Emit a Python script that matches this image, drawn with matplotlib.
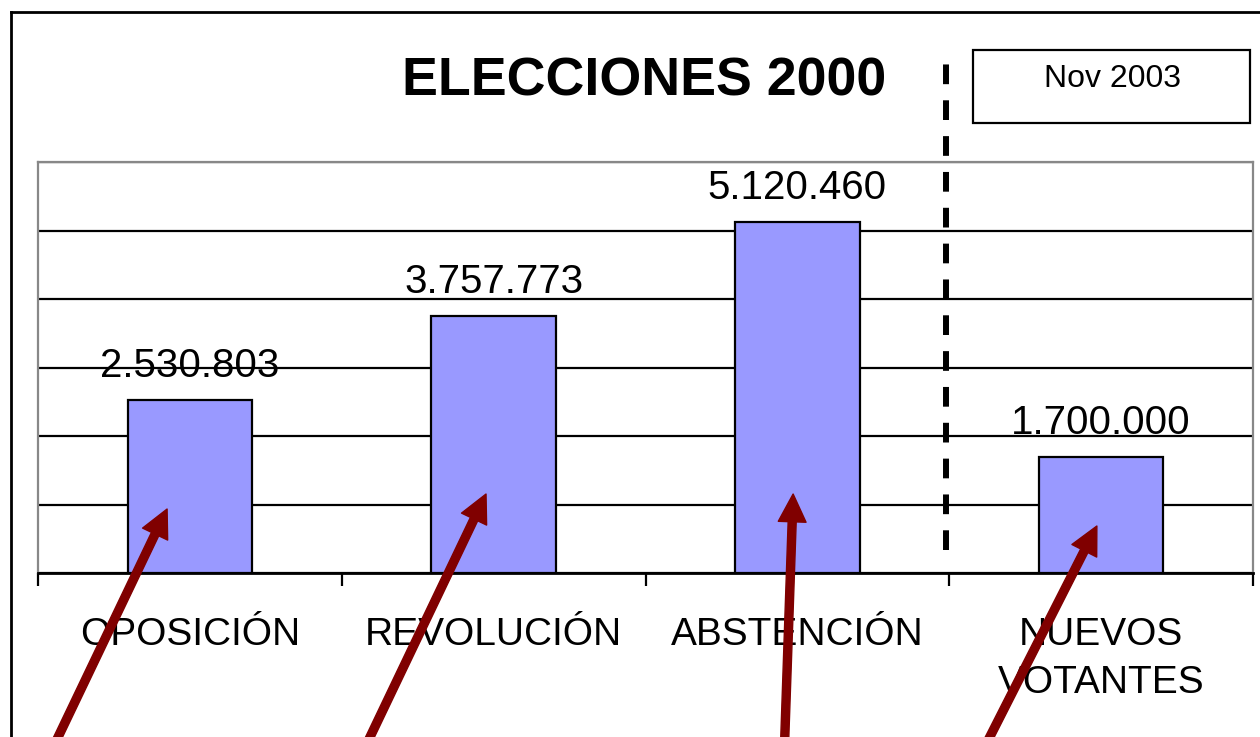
import matplotlib
matplotlib.use("Agg")
import matplotlib.pyplot as plt
from matplotlib.lines import Line2D
from matplotlib.patches import Rectangle

plt.rcParams['font.family'] = ['Liberation Sans', 'DejaVu Sans']

# datos
categorias = ['OPOSICIÓN', 'REVOLUCIÓN', 'ABSTENCIÓN', 'NUEVOS\nVOTANTES']
votos = [2530803, 3757773, 5120460, 1700000]
etiquetas = ['2.530.803', '3.757.773', '5.120.460', '1.700.000']
titulo = 'ELECCIONES 2000'
nota = 'Nov 2003'

# flechas: (x punta, y punta, x cola, y cola) en unidades de datos (millones)
flechas = [(-0.075, 0.934, -0.470, -2.73),
           (0.975, 1.153, 0.557, -2.73),
           (1.986, 1.153, 1.956, -2.73),
           (2.986, 0.686, 2.595, -2.73)]

W, H = 1260, 737
fig = plt.figure(figsize=(W / 100, H / 100), dpi=100)

def fx(px):
    return px / W

def fy(py):
    return 1 - py / H

ax = fig.add_axes([fx(38), fy(573), fx(1253) - fx(38), fy(162) - fy(573)])

x = range(len(categorias))
ax.bar(x, votos, width=0.41, color='#9999FF', edgecolor='black', linewidth=1.6, zorder=3)

ax.set_xlim(-0.5, len(categorias) - 0.5)
ax.set_ylim(0, 6000000)
ax.set_yticks(range(0, 6000001, 1000000))
ax.yaxis.grid(True, color='black', linewidth=1.6, zorder=0)
ax.tick_params(axis='y', left=False, labelleft=False)

ax.set_xticks(list(x))
ax.set_xticklabels(categorias, fontsize=28, linespacing=1.42)
ax.tick_params(axis='x', which='major', length=0, pad=32)
ax.set_xticks([i - 0.5 for i in range(len(categorias) + 1)], minor=True)
ax.tick_params(axis='x', which='minor', length=9, width=1.6, color='black', direction='out')

for s in ['left', 'top', 'right']:
    ax.spines[s].set_color('#888888')
    ax.spines[s].set_linewidth(1.6)
ax.spines['bottom'].set_color('black')
ax.spines['bottom'].set_linewidth(2)
ax.spines['bottom'].set_zorder(4)

for i, (v, t) in enumerate(zip(votos, etiquetas)):
    ax.annotate(t, (i, v), xytext=(0, 16.5), textcoords='offset points',
                ha='center', va='baseline', fontsize=29, zorder=5)

for (x1, y1, x0, y0) in flechas:
    ax.annotate('', xy=(x1, y1 * 1e6), xytext=(x0, y0 * 1e6),
                arrowprops=dict(arrowstyle='simple,head_width=1.0,head_length=1.0,tail_width=0.29',
                                mutation_scale=20, color='#800000', shrinkA=0, shrinkB=0),
                annotation_clip=False, zorder=6)

# linea discontinua que separa 2000 de 2003
ax.plot([2.49, 2.49], [0.336e6, 7.45e6], color='black', linewidth=4.3,
        dashes=(3.3, 2.7), dash_capstyle='butt', clip_on=False, zorder=5)

# titulo y recuadro
fig.text(fx(644), fy(95), titulo, ha='center', va='baseline', fontsize=38.7, fontweight='bold')
fig.patches.append(Rectangle((fx(973), fy(123)), fx(1250) - fx(973), fy(50) - fy(123),
                             transform=fig.transFigure, fill=False, edgecolor='black', linewidth=1.6))
fig.text(fx(1112), fy(87), nota, ha='center', va='baseline', fontsize=23)

# marco exterior
fig.lines.append(Line2D([fx(11), fx(11)], [fy(12), 0], transform=fig.transFigure, color='black', linewidth=2))
fig.lines.append(Line2D([fx(11), 1], [fy(12), fy(12)], transform=fig.transFigure, color='black', linewidth=2))

fig.savefig('out.png', dpi=100)
